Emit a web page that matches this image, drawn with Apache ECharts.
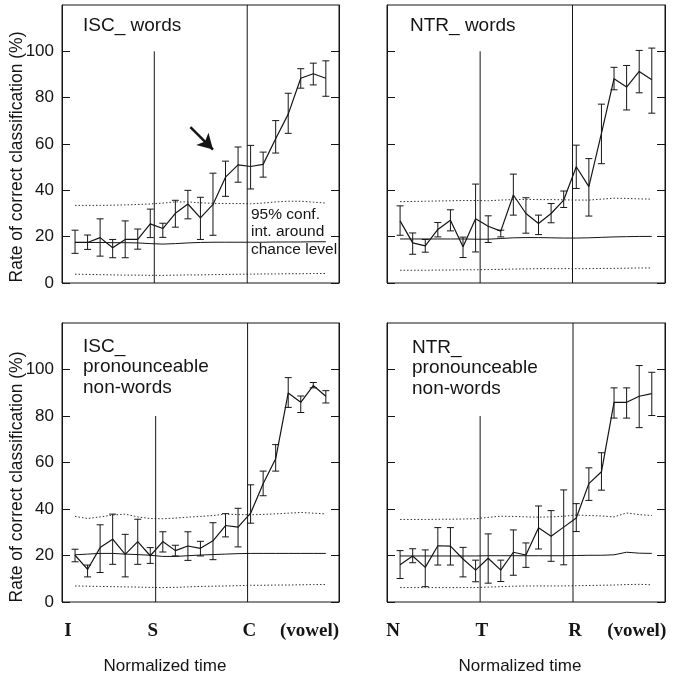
<!DOCTYPE html>
<html><head><meta charset="utf-8">
<script src="https://cdn.jsdelivr.net/npm/echarts@6/dist/echarts.min.js"></script>
<style>html,body{margin:0;padding:0;background:#fff}#c{width:682px;height:684px}</style>
</head><body><div id="c"></div>
<script>
// ---------- data ----------
const timeIdx = [0,1,2,3,4,5,6,7,8,9,10,11,12,13,14,15,16,17,18,19,20];
const yTicks = [0,20,40,60,80,100];

// ISC_ words
const iscWordsMean = [17.5,17.5,19.6,15.2,18.8,18.8,25.5,23.5,30.1,34.1,28.1,33.9,45.7,51.0,50.3,51.2,62.3,72.9,88.4,90.3,88.4];
const iscWordsHigh = [22.8,20.7,27.7,18.8,26.8,23.3,31.9,25.8,35.7,40.0,37.0,47.4,52.6,58.7,59.4,56.5,70.1,81.9,92.5,94.9,95.9];
const iscWordsLow  = [12.8,14.5,11.6,10.9,10.9,14.6,19.6,19.7,24.1,27.7,18.8,20.6,37.4,43.5,40.6,45.7,56.1,64.6,84.1,85.5,80.6];
const iscWordsChance = [17.5,17.5,17.5,17.4,17.4,17.3,17.0,16.8,17.0,17.3,17.5,17.6,17.6,17.6,17.6,17.6,17.7,17.7,17.7,17.8,17.8];
const iscWordsCiUpper = [33.5,33.5,33.5,33.6,33.7,33.9,34.1,34.5,35.0,35.0,34.6,34.4,34.3,34.3,34.2,34.5,35.0,35.3,35.3,34.9,34.5];
const iscWordsCiLower = [3.8,3.7,3.6,3.5,3.4,3.4,3.3,3.3,3.4,3.5,3.5,3.6,3.7,3.8,3.8,3.9,3.9,4.0,4.0,4.1,4.1];

// NTR_ words
const ntrWordsMean = [26.8,17.3,16.0,23.1,27.1,15.6,27.7,24.5,22.4,38.0,30.0,25.7,30.0,35.8,50.2,41.6,64.6,88.2,84.6,91.3,87.7];
const ntrWordsHigh = [33.3,21.6,18.8,26.1,31.6,19.8,42.7,29.0,22.8,47.0,36.8,29.3,34.3,39.7,59.5,53.7,77.2,93.1,93.9,100.4,101.4];
const ntrWordsLow  = [20.6,12.4,13.3,19.9,22.5,11.0,13.4,17.5,19.9,29.3,21.5,20.9,26.0,32.6,40.8,28.9,51.5,83.4,74.7,82.1,73.3];
const ntrWordsChance = [19.0,19.0,19.0,19.0,19.0,19.0,18.9,18.9,19.2,19.5,19.6,19.6,19.5,19.4,19.4,19.5,19.7,19.9,20.0,20.1,20.1];
const ntrWordsCiUpper = [35.1,35.2,35.3,35.4,35.5,35.6,35.6,35.5,35.8,36.0,36.1,36.0,36.0,35.9,35.8,35.8,36.2,36.6,36.5,36.3,36.2];
const ntrWordsCiLower = [5.5,5.5,5.5,5.6,5.6,5.7,5.7,5.8,5.9,6.0,6.1,6.2,6.2,6.2,6.2,6.2,6.3,6.3,6.4,6.5,6.5];

// ISC_ pronounceable non-words
const iscNonMean = [20.1,14.0,23.4,27.0,20.5,26.0,19.9,26.0,22.1,24.1,23.1,26.3,32.9,32.2,38.2,50.9,61.6,89.9,85.9,93.1,88.5];
const iscNonHigh = [22.7,15.9,33.2,37.8,29.1,35.6,23.4,30.2,24.4,30.2,26.1,34.1,38.0,40.3,50.4,56.3,67.7,96.5,88.6,94.4,90.9];
const iscNonLow  = [17.3,10.8,12.7,16.2,10.8,16.2,16.6,21.5,19.8,17.9,19.8,18.2,28.0,23.7,33.9,45.7,56.3,83.7,81.5,92.1,85.6];
const iscNonChance = [20.3,20.6,20.9,20.9,20.6,20.4,20.1,19.6,19.6,19.9,20.2,20.4,20.6,20.8,20.9,20.9,20.9,20.9,20.9,20.9,20.9];
const iscNonCiUpper = [36.8,35.9,36.6,37.4,37.8,36.6,35.9,35.8,36.1,36.5,36.8,37.2,37.8,37.6,37.5,37.7,37.9,38.2,38.5,38.2,37.9];
const iscNonCiLower = [6.9,6.8,6.7,6.6,6.5,6.4,6.3,6.2,6.3,6.5,6.7,6.8,6.9,7.0,7.2,7.2,7.3,7.3,7.4,7.5,7.5];

// NTR_ pronounceable non-words
const ntrNonMean = [16.0,19.8,14.9,24.2,24.0,18.5,13.7,18.8,13.7,21.4,20.2,31.9,28.3,32.2,36.1,50.9,56.0,85.9,85.9,88.5,89.6];
const ntrNonHigh = [22.1,22.9,22.4,32.0,32.0,23.5,18.0,29.3,18.0,31.0,25.4,41.3,39.3,48.2,42.3,57.7,64.2,92.1,92.1,101.7,98.8];
const ntrNonLow  = [10.1,16.9,6.6,15.9,15.9,10.8,8.7,8.1,8.8,11.5,14.9,22.8,17.5,16.0,30.3,43.7,48.1,79.1,79.1,75.0,80.2];
const ntrNonChance = [19.8,19.8,19.8,19.8,19.8,19.8,19.8,19.9,19.9,19.9,19.9,19.9,19.9,19.9,20.0,20.1,20.1,20.3,21.4,21.0,20.9];
const ntrNonCiUpper = [35.5,35.5,35.5,35.6,35.6,35.7,35.8,36.4,36.9,36.8,36.6,36.5,36.6,36.9,37.4,37.2,37.0,36.6,38.3,37.6,37.2];
const ntrNonCiLower = [6.2,6.2,6.2,6.2,6.2,6.2,6.2,6.4,6.6,6.8,6.9,6.9,6.9,6.9,7.0,7.1,7.2,7.3,7.5,7.6,7.4];

// segment boundaries (normalized time, index units) and their heights
const iscWordsBounds = [6.32, 13.73];
const ntrWordsBounds = [6.36, 13.70];
const iscNonBounds = [6.43, 13.76];
const ntrNonBounds = [6.36, 13.74];
const boundTopsWords = [100, 120];
const boundTopsNon = [80, 120];

// x tick labels
const iscLabels = ['I','S','C','(vowel)'];
const iscLabelPos = [-0.56, 6.2, 13.9, 18.7];
const ntrLabels = ['N','T','R','(vowel)'];
const ntrLabelPos = [-0.56, 6.5, 13.9, 18.8];

// arrow annotation (data coords)
const arrowFrom = [9.2, 67.3];
const arrowTo = [11.0, 57.6];

// ---------- chart ----------
const INK = '#151515';
const FONT = '"Liberation Sans", Arial, sans-serif';
const zip = (xs, ys) => xs.map((x, i) => [x, ys[i]]);

const panels = [
  {mean: iscWordsMean, hi: iscWordsHigh, lo: iscWordsLow, ch: iscWordsChance, cu: iscWordsCiUpper, cl: iscWordsCiLower, b: iscWordsBounds, bt: boundTopsWords, grid: {left: 62, top: 5, width: 277, height: 278}, yLabel: true, xl: null},
  {mean: ntrWordsMean, hi: ntrWordsHigh, lo: ntrWordsLow, ch: ntrWordsChance, cu: ntrWordsCiUpper, cl: ntrWordsCiLower, b: ntrWordsBounds, bt: boundTopsWords, grid: {left: 387, top: 5, width: 278, height: 278}, yLabel: false, xl: null},
  {mean: iscNonMean, hi: iscNonHigh, lo: iscNonLow, ch: iscNonChance, cu: iscNonCiUpper, cl: iscNonCiLower, b: iscNonBounds, bt: boundTopsNon, grid: {left: 62, top: 323, width: 277, height: 279}, yLabel: true, xl: [iscLabels, iscLabelPos]},
  {mean: ntrNonMean, hi: ntrNonHigh, lo: ntrNonLow, ch: ntrNonChance, cu: ntrNonCiUpper, cl: ntrNonCiLower, b: ntrNonBounds, bt: boundTopsNon, grid: {left: 387, top: 323, width: 278, height: 279}, yLabel: false, xl: [ntrLabels, ntrLabelPos]}
];

function renderErr(params, api) {
  const x = api.value(0), lo = api.value(1), hi = api.value(2);
  const a = api.coord([x, lo]), b = api.coord([x, hi]);
  const w = 3.5;
  const style = {stroke: INK, lineWidth: 1, fill: null};
  return {type: 'group', children: [
    {type: 'line', shape: {x1: a[0], y1: a[1], x2: b[0], y2: b[1]}, style: style},
    {type: 'line', shape: {x1: a[0] - w, y1: a[1], x2: a[0] + w, y2: a[1]}, style: style},
    {type: 'line', shape: {x1: b[0] - w, y1: b[1], x2: b[0] + w, y2: b[1]}, style: style}
  ]};
}

const grid = [], xAxis = [], yAxis = [], series = [];
panels.forEach((p, g) => {
  grid.push(Object.assign({show: true, borderColor: INK, borderWidth: 1, backgroundColor: 'transparent', containLabel: false, outerBoundsMode: 'none'}, p.grid));
  const xa = {type: 'value', gridIndex: g, min: -1.04, max: 21.05, splitLine: {show: false},
    axisLine: {show: false, onZero: false}, axisTick: {show: false}, axisLabel: {show: false}};
  if (p.xl) {
    const [labs, pos] = p.xl;
    xa.axisLabel = {show: true, customValues: pos, margin: 20, color: INK,
      fontFamily: '"Liberation Serif", "Times New Roman", serif', fontWeight: 'bold', fontSize: 19,
      formatter: v => { let k = 0, d = 1e9; pos.forEach((q, i) => { if (Math.abs(q - v) < d) { d = Math.abs(q - v); k = i; } }); return labs[k]; }};
  }
  xAxis.push(xa);
  const yBase = {type: 'value', gridIndex: g, min: 0, max: 120, splitLine: {show: false},
    axisLine: {show: true, onZero: false, lineStyle: {color: INK, width: 1}},
    axisTick: {show: true, inside: true, length: 8, customValues: yTicks, lineStyle: {color: INK, width: 1}}};
  yAxis.push(Object.assign({}, yBase, {position: 'left',
    axisLabel: p.yLabel ? {show: true, customValues: yTicks, margin: 8, fontSize: 17, color: INK, fontFamily: FONT} : {show: false}}));
  yAxis.push(Object.assign({}, yBase, {position: 'right', axisLabel: {show: false}}));
  const ax = {xAxisIndex: g, yAxisIndex: 2 * g};
  const ln = (data, style, extra) => Object.assign({type: 'line', data: data, symbol: 'none', silent: true, lineStyle: style}, ax, extra || {});
  series.push(ln(zip(timeIdx, p.ch), {color: INK, width: 1}));
  series.push(ln(zip(timeIdx, p.cu), {color: '#333', width: 1, type: [1.5, 2]}));
  series.push(ln(zip(timeIdx, p.cl), {color: '#333', width: 1, type: [1.5, 2]}));
  p.b.forEach((bx, i) => series.push(ln([[bx, 0], [bx, p.bt[i]]], {color: INK, width: 1})));
  series.push(Object.assign({type: 'custom', renderItem: renderErr, silent: true,
    data: timeIdx.map((t, i) => [t, p.lo[i], p.hi[i]]), encode: {x: 0, y: [1, 2]}}, ax));
  const extra = g === 0 ? {markLine: {silent: true, symbol: ['none', 'arrow'], symbolSize: [13, 15],
    lineStyle: {color: INK, width: 2.5, type: 'solid'}, label: {show: false},
    data: [[{coord: arrowFrom}, {coord: arrowTo}]]}} : {};
  series.push(ln(zip(timeIdx, p.mean), {color: INK, width: 1.2}, extra));
});

const txt = (x, y, t, size, extra) => ({type: 'text', x: x, y: y, silent: true,
  style: Object.assign({text: t, font: size + 'px ' + FONT, fill: INK, textVerticalAlign: 'middle'}, extra || {})});
const vtxt = (x, y, t, size) => ({type: 'text', x: x, y: y, rotation: Math.PI / 2, silent: true,
  style: {text: t, font: size + 'px ' + FONT, fill: INK, textAlign: 'center', textVerticalAlign: 'middle'}});

const option = {
  animation: false,
  backgroundColor: '#fff',
  grid: grid, xAxis: xAxis, yAxis: yAxis, series: series,
  graphic: [
    vtxt(17, 157, 'Rate of correct classification (%)', 17.5),
    vtxt(17, 477, 'Rate of correct classification (%)', 17.5),
    txt(83, 26, 'ISC_ words', 19),
    txt(410, 26, 'NTR_ words', 19),
    txt(83, 347, 'ISC_', 19), txt(83, 367, 'pronounceable', 19), txt(83, 388, 'non-words', 19),
    txt(412, 348, 'NTR_', 19), txt(412, 368, 'pronounceable', 19), txt(412, 389, 'non-words', 19),
    txt(251, 215, '95% conf.', 15.5), txt(251, 232, 'int. around', 15.5), txt(251, 250, 'chance level', 15.5),
    txt(165, 666, 'Normalized time', 17, {textAlign: 'center'}),
    txt(520, 666, 'Normalized time', 17, {textAlign: 'center'})
  ]
};
const chart = echarts.init(document.getElementById('c'), null, {renderer: 'canvas'});
chart.setOption(option);
</script>
</body></html>
